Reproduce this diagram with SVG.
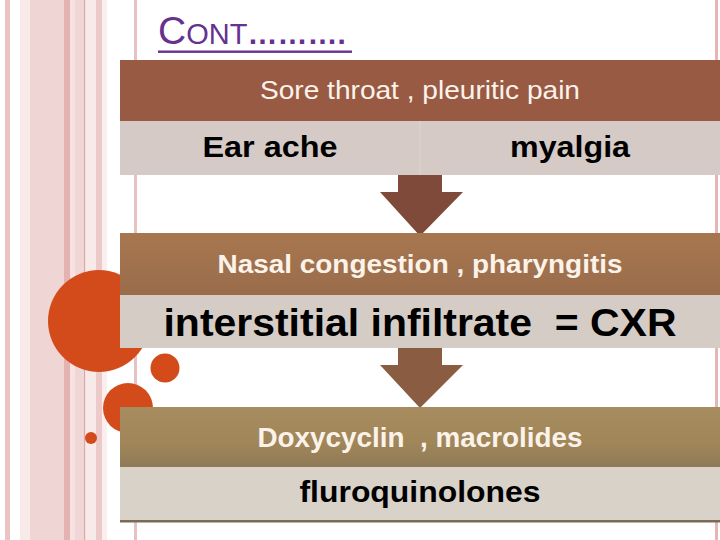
<svg xmlns="http://www.w3.org/2000/svg" width="720" height="540" viewBox="0 0 720 540">
<defs>
<linearGradient id="g2" x1="0" y1="0" x2="0" y2="1"><stop offset="0" stop-color="#a6774f"/><stop offset="1" stop-color="#9b6c4b"/></linearGradient>
<linearGradient id="g3" x1="0" y1="0" x2="0" y2="1"><stop offset="0" stop-color="#a68c5f"/><stop offset="0.6" stop-color="#a08659"/><stop offset="1" stop-color="#8f7a58"/></linearGradient>
<style>
.dec{fill:#d34b1b}
.hd{font-family:"Liberation Sans",Arial,sans-serif;fill:#fbf3ea}
.bd{font-family:"Liberation Sans",Arial,sans-serif;font-weight:bold;fill:#000}
.row{fill:#d5cac5}
</style>
</defs>
<rect width="720" height="540" fill="#fff"/>
<g id="stripes">
<rect x="5" y="0" width="5" height="540" fill="#ebc3c3"/>
<rect x="20" y="0" width="10" height="540" fill="#f9eaea"/>
<rect x="30" y="0" width="34" height="540" fill="#f0d5d5"/>
<rect x="64" y="0" width="6" height="540" fill="#e5b2b2"/>
<rect x="70" y="0" width="5" height="540" fill="#f7e2e2"/>
<rect x="75" y="0" width="9" height="540" fill="#f0d6d6"/>
<rect x="84" y="0" width="1.5" height="540" fill="#d9a9a9"/>
<rect x="85.5" y="0" width="10.5" height="540" fill="#f9eaea"/>
<rect x="96" y="0" width="6" height="540" fill="#edcaca"/>
<rect x="102" y="0" width="5" height="540" fill="#faeeee"/>
<rect x="134" y="0" width="3" height="540" fill="#e8c2c2"/>
<rect x="715" y="0" width="3" height="540" fill="#e8b6b2"/>
</g>
<g id="circles">
<circle class="dec" cx="99" cy="321" r="51"/>
<circle class="dec" cx="165" cy="368" r="14.5"/>
<circle class="dec" cx="128" cy="408" r="25"/>
<circle class="dec" cx="91" cy="438" r="6"/>
</g>
<g id="title">
<text x="158" y="44" font-family="'Liberation Sans',Arial,sans-serif" fill="#66318f"><tspan font-size="39">C</tspan><tspan font-size="29">ONT</tspan><tspan font-size="30" font-weight="bold">……….</tspan></text>
<rect x="158" y="50.5" width="194" height="2.4" fill="#66318f"/>
</g>
<g id="connectors">
<path d="M398,175 H442 V192 H463 L420,236 L380,192 H398 Z" fill="#7f4a39"/>
<path d="M398,348 H442 V365 H463 L420,408 L380,365 H398 Z" fill="#8a5d42"/>
</g>
<g id="node1">
<rect x="120" y="60" width="600" height="61" fill="#995a44"/>
<rect class="row" x="120" y="121" width="600" height="54"/>
<rect x="419.5" y="121" width="1" height="54" fill="#e0d6d2"/>
<text class="hd" x="420" y="99" font-size="25" text-anchor="middle" textLength="320" lengthAdjust="spacingAndGlyphs">Sore throat , pleuritic pain</text>
<text class="bd" x="270" y="157" font-size="29" text-anchor="middle" textLength="135" lengthAdjust="spacingAndGlyphs">Ear ache</text>
<text class="bd" x="570" y="157" font-size="29" text-anchor="middle" textLength="120" lengthAdjust="spacingAndGlyphs">myalgia</text>
</g>
<g id="node2">
<rect x="120" y="233" width="600" height="62" fill="url(#g2)"/>
<rect x="120" y="295" width="600" height="53" fill="#d6ccc6"/>
<text class="hd" x="420" y="273" font-size="25" font-weight="bold" text-anchor="middle" textLength="405" lengthAdjust="spacingAndGlyphs">Nasal congestion , pharyngitis</text>
<text class="bd" x="420" y="336" font-size="39" text-anchor="middle" textLength="513" lengthAdjust="spacingAndGlyphs" xml:space="preserve">interstitial infiltrate  = CXR</text>
</g>
<g id="node3">
<rect x="120" y="407" width="600" height="60" fill="url(#g3)"/>
<rect x="120" y="467" width="600" height="53" fill="#d8d2c8"/>
<rect x="120" y="520" width="600" height="2.5" fill="#7b6b56"/>
<text class="hd" x="420" y="447" font-size="27" font-weight="bold" text-anchor="middle" textLength="325" lengthAdjust="spacingAndGlyphs" xml:space="preserve">Doxycyclin  , macrolides</text>
<text class="bd" x="420" y="502" font-size="29" text-anchor="middle" textLength="241" lengthAdjust="spacingAndGlyphs">fluroquinolones</text>
</g>
</svg>
